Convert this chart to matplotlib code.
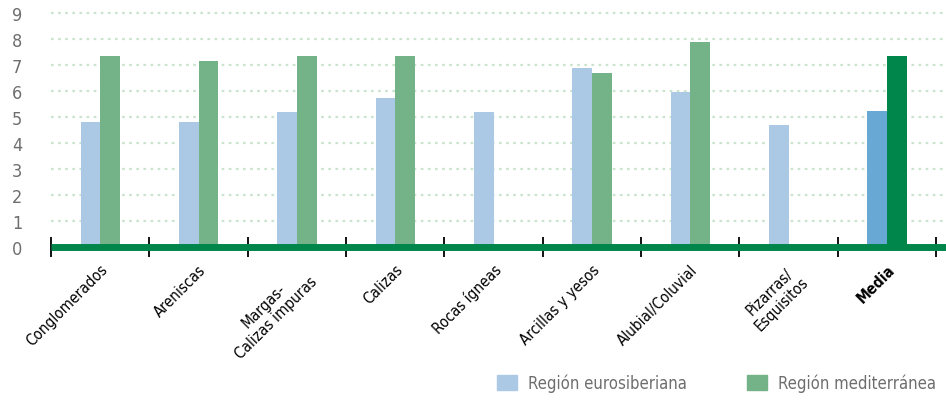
import matplotlib.pyplot as plt
import numpy as np
from matplotlib.patches import Patch

plt.rcParams['font.family'] = ['Liberation Sans Narrow', 'DejaVu Sans']
plt.rcParams['font.stretch'] = 'condensed'

categorias = ['Conglomerados', 'Areniscas', 'Margas-\nCalizas impuras', 'Calizas',
              'Rocas ígneas', 'Arcillas y yesos', 'Alubial/Coluvial',
              'Pizarras/\nEsquisitos', 'Media']
eurosiberiana = [4.8, 4.8, 5.2, 5.75, 5.2, 6.9, 5.97, 4.7, 5.25]
mediterranea = [7.35, 7.15, 7.35, 7.35, np.nan, 6.7, 7.9, np.nan, 7.35]
yticks = list(range(10))

c_blue = '#abc8e4'
c_green = '#74b288'
c_blue_m = '#68a8d4'
c_green_m = '#00854a'
gris = '#6e6e6e'

fig = plt.figure(figsize=(9.46, 4.06), dpi=100)
ax = fig.add_axes([51/946, 158/406, 885/946, 234/406])

n = len(categorias)
x = np.arange(n) + 0.5
w = 0.2
cb = [c_blue] * (n - 1) + [c_blue_m]
cg = [c_green] * (n - 1) + [c_green_m]
ax.bar(x - w/2, eurosiberiana, w, color=cb, zorder=3)
ax.bar(x + w/2, mediterranea, w, color=cg, zorder=3)

ax.set_xlim(0, n)
ax.set_ylim(0, 9)
for v in yticks[1:]:
    ax.plot([0, n + 0.1], [v, v], ls=(0, (1.2, 2.0)), lw=1.6, color='#cbe4ce',
            zorder=1, clip_on=False)
ax.plot([0, n + 0.1], [0, 0], lw=5, color=c_green_m, zorder=4, clip_on=False,
        solid_capstyle='butt')

for s in ax.spines.values():
    s.set_visible(False)

ax.set_yticks(yticks)
ax.set_yticklabels([str(v) for v in yticks], fontsize=13, color=gris)
ax.tick_params(axis='y', length=0, pad=28)
for t in ax.get_yticklabels():
    t.set_horizontalalignment('left')

ax.set_xticks(np.arange(n + 1))
ax.set_xticklabels([])
ax.tick_params(axis='x', direction='inout', length=14, width=1.3, color='black')

for i, lab in enumerate(categorias):
    ax.text(x[i] - 0.0, -0.55, lab, rotation=45, ha='right', va='top',
            rotation_mode='anchor', multialignment='center', fontsize=11,
            color='black', fontweight='bold' if lab == 'Media' else 'normal')

handles = [Patch(color=c_blue, label='Región eurosiberiana'),
           Patch(color=c_green, label='Región mediterránea')]
leg = fig.legend(handles=handles, loc='lower right', bbox_to_anchor=(1.005, -0.005),
                 ncol=2, frameon=False, fontsize=12, handlelength=1.2,
                 handleheight=1.0, columnspacing=3.6, handletextpad=0.65)
for t in leg.get_texts():
    t.set_color(gris)

fig.savefig('out.png', dpi=100)
